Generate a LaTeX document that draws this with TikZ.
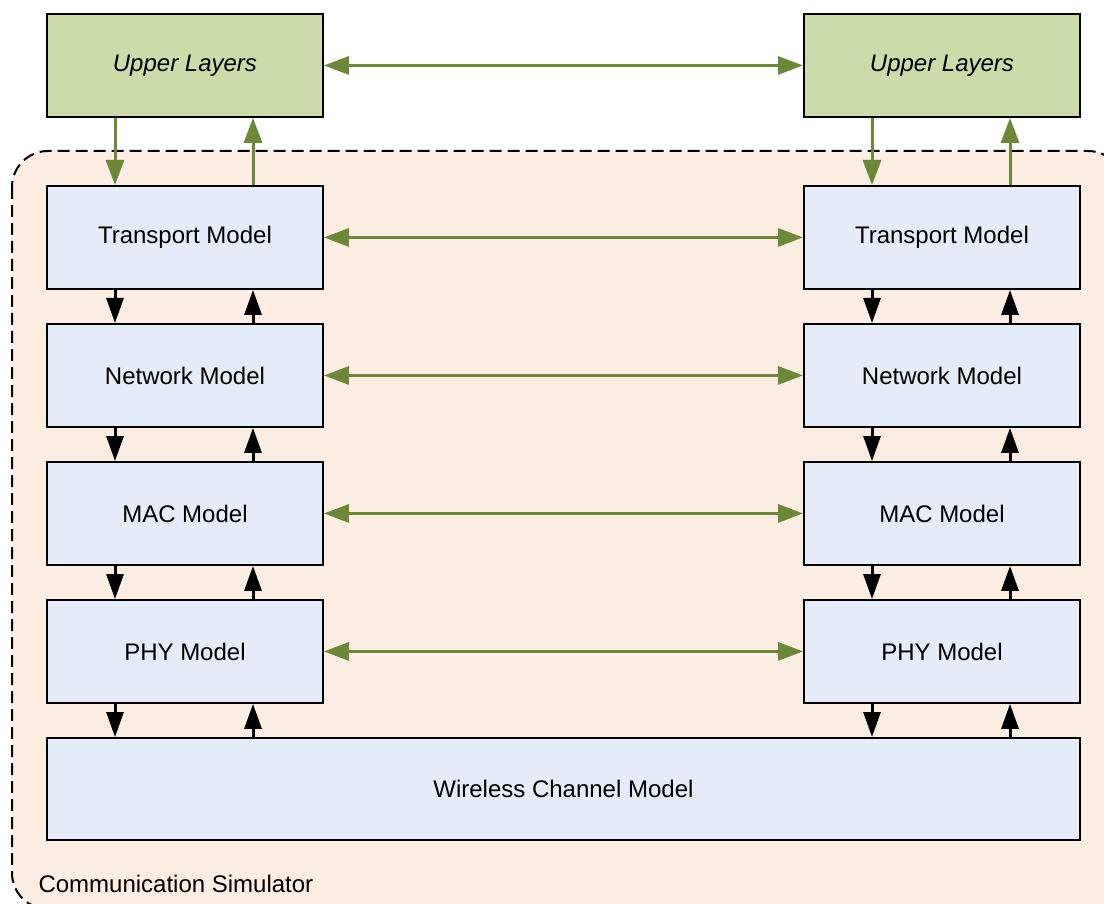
\documentclass[tikz,border=0pt]{standalone}
\usepackage{fontspec}
\setmainfont{Liberation Sans}
\usetikzlibrary{arrows.meta}
\definecolor{upfill}{RGB}{205,219,170}
\definecolor{modfill}{RGB}{229,236,247}
\definecolor{simfill}{RGB}{252,237,226}
\definecolor{arrgreen}{RGB}{107,135,55}
\begin{document}
\begin{tikzpicture}[x=1pt,y=-1pt,
  box/.style={draw=black,line width=1.9pt,minimum width=276pt,minimum height=103pt,inner sep=0pt,font=\fontsize{24pt}{28pt}\selectfont,anchor=north west},
  upbox/.style={box,fill=upfill,font=\fontsize{24pt}{28pt}\selectfont\itshape},
  modbox/.style={box,fill=modfill},
  garr/.style={draw=arrgreen,line width=3pt,-{Triangle[length=25pt,width=18pt]}},
  gdarr/.style={draw=arrgreen,line width=3pt,{Triangle[length=25pt,width=18pt]}-{Triangle[length=25pt,width=18pt]}},
  barr/.style={draw=black,line width=3pt,-{Triangle[length=25pt,width=17pt]}}]
\useasboundingbox (0,0) rectangle (1104,904);
\begin{scope}
\clip (0,0) rectangle (1104,904);
\draw[fill=simfill,dashed,dash pattern=on 12pt off 6pt,line width=2pt,rounded corners=36pt] (12,151) rectangle (1124,909);
\end{scope}
\node[anchor=base west,font=\fontsize{24pt}{28pt}\selectfont] (sim) at (35,892) {Communication Simulator};
% left column
\node[upbox] (ulL) at (46,13) {Upper Layers};
\node[modbox] (trL) at (46,185) {Transport Model};
\node[modbox] (nwL) at (46,323) {Network Model};
\node[modbox] (mcL) at (46,461) {MAC Model};
\node[modbox] (phL) at (46,599) {PHY Model};
% right column
\node[upbox] (ulR) at (803,13) {Upper Layers};
\node[modbox] (trR) at (803,185) {Transport Model};
\node[modbox] (nwR) at (803,323) {Network Model};
\node[modbox] (mcR) at (803,461) {MAC Model};
\node[modbox] (phR) at (803,599) {PHY Model};
% channel
\node[box,fill=modfill,minimum width=1033pt,minimum height=102pt] (ch) at (46,737) {Wireless Channel Model};
% horizontal links
\foreach \a/\b in {ulL/ulR,trL/trR,nwL/nwR,mcL/mcR,phL/phR}{
  \draw[gdarr] (\a.east) -- (\b.west);
}
% vertical green
\draw[garr] (ulL.south west) ++(69,0) coordinate (g1) -- (g1 |- trL.north);
\draw[garr] (trL.north west) ++(207,0) coordinate (g2) -- (g2 |- ulL.south);
\draw[garr] (ulR.south west) ++(69,0) coordinate (g3) -- (g3 |- trR.north);
\draw[garr] (trR.north west) ++(207,0) coordinate (g4) -- (g4 |- ulR.south);
% vertical black
\foreach \u/\d in {trL/nwL,nwL/mcL,mcL/phL,trR/nwR,nwR/mcR,mcR/phR}{
  \draw[barr] (\u.south west) ++(69,0) coordinate (p) -- (p |- \d.north);
  \draw[barr] (\d.north west) ++(207,0) coordinate (q) -- (q |- \u.south);
}
\draw[barr] (phL.south west) ++(69,0) coordinate (c1) -- (c1 |- ch.north);
\draw[barr] (ch.north west) ++(207,0) coordinate (c2) -- (c2 |- phL.south);
\draw[barr] (phR.south west) ++(69,0) coordinate (c3) -- (c3 |- ch.north);
\draw[barr] (ch.north west) ++(964,0) coordinate (c4) -- (c4 |- phR.south);
\end{tikzpicture}
\end{document}
